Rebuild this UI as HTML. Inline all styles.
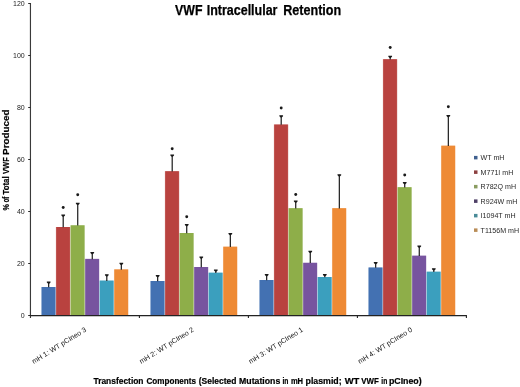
<!DOCTYPE html><html><head><meta charset="utf-8"><title>VWF Intracellular Retention</title>
<style>html,body{margin:0;padding:0;background:#fff}body{width:520px;height:387px;overflow:hidden}svg{display:block}text{font-family:"Liberation Sans",sans-serif}</style></head><body>
<svg width="520" height="387" viewBox="0 0 520 387">
<rect width="520" height="387" fill="#fff"/>
<text y="14.6" font-size="14" font-weight="bold" fill="#000" stroke="#000" stroke-width="0.25"><tspan x="175.1" textLength="27.4" lengthAdjust="spacingAndGlyphs">VWF</tspan> <tspan x="206.7" textLength="70.8" lengthAdjust="spacingAndGlyphs">Intracellular</tspan> <tspan x="283.2" textLength="58" lengthAdjust="spacingAndGlyphs">Retention</tspan></text>
<rect x="41.30" y="287.00" width="14.53" height="28.50" fill="#4371b2" opacity="0.4"/>
<rect x="41.65" y="287.00" width="13.73" height="28.50" fill="#4371b2"/>
<line x1="48.67" y1="287.30" x2="48.67" y2="282.00" stroke="#1a1a1a" stroke-width="1.2"/>
<polygon points="46.82,281.60 50.52,281.60 50.52,282.50 49.17,283.80 48.17,283.80 46.82,282.50" fill="#1a1a1a"/>
<rect x="55.83" y="227.00" width="14.53" height="88.50" fill="#b9423f" opacity="0.4"/>
<rect x="56.18" y="227.00" width="13.73" height="88.50" fill="#b9423f"/>
<line x1="63.20" y1="227.30" x2="63.20" y2="215.00" stroke="#1a1a1a" stroke-width="1.2"/>
<polygon points="61.35,214.60 65.05,214.60 65.05,215.50 63.70,216.80 62.70,216.80 61.35,215.50" fill="#1a1a1a"/>
<circle cx="63.20" cy="207.50" r="1.45" fill="#1a1a1a"/>
<rect x="70.37" y="225.30" width="14.53" height="90.20" fill="#8eae49" opacity="0.4"/>
<rect x="70.72" y="225.30" width="13.73" height="90.20" fill="#8eae49"/>
<line x1="77.73" y1="225.60" x2="77.73" y2="203.20" stroke="#1a1a1a" stroke-width="1.2"/>
<polygon points="75.88,202.80 79.58,202.80 79.58,203.70 78.23,205.00 77.23,205.00 75.88,203.70" fill="#1a1a1a"/>
<circle cx="77.73" cy="194.70" r="1.45" fill="#1a1a1a"/>
<rect x="84.90" y="258.90" width="14.53" height="56.60" fill="#77549f" opacity="0.4"/>
<rect x="85.25" y="258.90" width="13.73" height="56.60" fill="#77549f"/>
<line x1="92.27" y1="259.20" x2="92.27" y2="252.50" stroke="#1a1a1a" stroke-width="1.2"/>
<polygon points="90.42,252.10 94.12,252.10 94.12,253.00 92.77,254.30 91.77,254.30 90.42,253.00" fill="#1a1a1a"/>
<rect x="99.43" y="280.60" width="14.53" height="34.90" fill="#3b9fbe" opacity="0.4"/>
<rect x="99.78" y="280.60" width="13.73" height="34.90" fill="#3b9fbe"/>
<line x1="106.80" y1="280.90" x2="106.80" y2="274.70" stroke="#1a1a1a" stroke-width="1.2"/>
<polygon points="104.95,274.30 108.65,274.30 108.65,275.20 107.30,276.50 106.30,276.50 104.95,275.20" fill="#1a1a1a"/>
<rect x="113.97" y="269.40" width="14.53" height="46.10" fill="#ee8a35" opacity="0.4"/>
<rect x="114.32" y="269.40" width="13.73" height="46.10" fill="#ee8a35"/>
<line x1="121.33" y1="269.70" x2="121.33" y2="263.20" stroke="#1a1a1a" stroke-width="1.2"/>
<polygon points="119.48,262.80 123.18,262.80 123.18,263.70 121.83,265.00 120.83,265.00 119.48,263.70" fill="#1a1a1a"/>
<rect x="150.30" y="281.00" width="14.53" height="34.50" fill="#4371b2" opacity="0.4"/>
<rect x="150.65" y="281.00" width="13.73" height="34.50" fill="#4371b2"/>
<line x1="157.67" y1="281.30" x2="157.67" y2="275.50" stroke="#1a1a1a" stroke-width="1.2"/>
<polygon points="155.82,275.10 159.52,275.10 159.52,276.00 158.17,277.30 157.17,277.30 155.82,276.00" fill="#1a1a1a"/>
<rect x="164.83" y="171.20" width="14.53" height="144.30" fill="#b9423f" opacity="0.4"/>
<rect x="165.18" y="171.20" width="13.73" height="144.30" fill="#b9423f"/>
<line x1="172.20" y1="171.50" x2="172.20" y2="155.00" stroke="#1a1a1a" stroke-width="1.2"/>
<polygon points="170.35,154.60 174.05,154.60 174.05,155.50 172.70,156.80 171.70,156.80 170.35,155.50" fill="#1a1a1a"/>
<circle cx="172.20" cy="148.70" r="1.45" fill="#1a1a1a"/>
<rect x="179.37" y="233.00" width="14.53" height="82.50" fill="#8eae49" opacity="0.4"/>
<rect x="179.72" y="233.00" width="13.73" height="82.50" fill="#8eae49"/>
<line x1="186.73" y1="233.30" x2="186.73" y2="224.50" stroke="#1a1a1a" stroke-width="1.2"/>
<polygon points="184.88,224.10 188.58,224.10 188.58,225.00 187.23,226.30 186.23,226.30 184.88,225.00" fill="#1a1a1a"/>
<circle cx="186.73" cy="216.70" r="1.45" fill="#1a1a1a"/>
<rect x="193.90" y="267.00" width="14.53" height="48.50" fill="#77549f" opacity="0.4"/>
<rect x="194.25" y="267.00" width="13.73" height="48.50" fill="#77549f"/>
<line x1="201.27" y1="267.30" x2="201.27" y2="257.00" stroke="#1a1a1a" stroke-width="1.2"/>
<polygon points="199.42,256.60 203.12,256.60 203.12,257.50 201.77,258.80 200.77,258.80 199.42,257.50" fill="#1a1a1a"/>
<rect x="208.43" y="272.70" width="14.53" height="42.80" fill="#3b9fbe" opacity="0.4"/>
<rect x="208.78" y="272.70" width="13.73" height="42.80" fill="#3b9fbe"/>
<line x1="215.80" y1="273.00" x2="215.80" y2="270.00" stroke="#1a1a1a" stroke-width="1.2"/>
<polygon points="213.95,269.60 217.65,269.60 217.65,270.50 216.30,271.80 215.30,271.80 213.95,270.50" fill="#1a1a1a"/>
<rect x="222.97" y="246.70" width="14.53" height="68.80" fill="#ee8a35" opacity="0.4"/>
<rect x="223.32" y="246.70" width="13.73" height="68.80" fill="#ee8a35"/>
<line x1="230.33" y1="247.00" x2="230.33" y2="233.50" stroke="#1a1a1a" stroke-width="1.2"/>
<polygon points="228.48,233.10 232.18,233.10 232.18,234.00 230.83,235.30 229.83,235.30 228.48,234.00" fill="#1a1a1a"/>
<rect x="259.30" y="280.00" width="14.53" height="35.50" fill="#4371b2" opacity="0.4"/>
<rect x="259.65" y="280.00" width="13.73" height="35.50" fill="#4371b2"/>
<line x1="266.67" y1="280.30" x2="266.67" y2="274.50" stroke="#1a1a1a" stroke-width="1.2"/>
<polygon points="264.82,274.10 268.52,274.10 268.52,275.00 267.17,276.30 266.17,276.30 264.82,275.00" fill="#1a1a1a"/>
<rect x="273.83" y="124.50" width="14.53" height="191.00" fill="#b9423f" opacity="0.4"/>
<rect x="274.18" y="124.50" width="13.73" height="191.00" fill="#b9423f"/>
<line x1="281.20" y1="124.80" x2="281.20" y2="115.70" stroke="#1a1a1a" stroke-width="1.2"/>
<polygon points="279.35,115.30 283.05,115.30 283.05,116.20 281.70,117.50 280.70,117.50 279.35,116.20" fill="#1a1a1a"/>
<circle cx="281.20" cy="108.00" r="1.45" fill="#1a1a1a"/>
<rect x="288.37" y="208.20" width="14.53" height="107.30" fill="#8eae49" opacity="0.4"/>
<rect x="288.72" y="208.20" width="13.73" height="107.30" fill="#8eae49"/>
<line x1="295.73" y1="208.50" x2="295.73" y2="201.00" stroke="#1a1a1a" stroke-width="1.2"/>
<polygon points="293.88,200.60 297.58,200.60 297.58,201.50 296.23,202.80 295.23,202.80 293.88,201.50" fill="#1a1a1a"/>
<circle cx="295.73" cy="194.50" r="1.45" fill="#1a1a1a"/>
<rect x="302.90" y="262.80" width="14.53" height="52.70" fill="#77549f" opacity="0.4"/>
<rect x="303.25" y="262.80" width="13.73" height="52.70" fill="#77549f"/>
<line x1="310.27" y1="263.10" x2="310.27" y2="251.20" stroke="#1a1a1a" stroke-width="1.2"/>
<polygon points="308.42,250.80 312.12,250.80 312.12,251.70 310.77,253.00 309.77,253.00 308.42,251.70" fill="#1a1a1a"/>
<rect x="317.43" y="277.00" width="14.53" height="38.50" fill="#3b9fbe" opacity="0.4"/>
<rect x="317.78" y="277.00" width="13.73" height="38.50" fill="#3b9fbe"/>
<line x1="324.80" y1="277.30" x2="324.80" y2="274.50" stroke="#1a1a1a" stroke-width="1.2"/>
<polygon points="322.95,274.10 326.65,274.10 326.65,275.00 325.30,276.30 324.30,276.30 322.95,275.00" fill="#1a1a1a"/>
<rect x="331.97" y="208.20" width="14.53" height="107.30" fill="#ee8a35" opacity="0.4"/>
<rect x="332.32" y="208.20" width="13.73" height="107.30" fill="#ee8a35"/>
<line x1="339.33" y1="208.50" x2="339.33" y2="174.70" stroke="#1a1a1a" stroke-width="1.2"/>
<polygon points="337.48,174.30 341.18,174.30 341.18,175.20 339.83,176.50 338.83,176.50 337.48,175.20" fill="#1a1a1a"/>
<rect x="368.30" y="267.50" width="14.53" height="48.00" fill="#4371b2" opacity="0.4"/>
<rect x="368.65" y="267.50" width="13.73" height="48.00" fill="#4371b2"/>
<line x1="375.67" y1="267.80" x2="375.67" y2="262.50" stroke="#1a1a1a" stroke-width="1.2"/>
<polygon points="373.82,262.10 377.52,262.10 377.52,263.00 376.17,264.30 375.17,264.30 373.82,263.00" fill="#1a1a1a"/>
<rect x="382.83" y="59.20" width="14.53" height="256.30" fill="#b9423f" opacity="0.4"/>
<rect x="383.18" y="59.20" width="13.73" height="256.30" fill="#b9423f"/>
<line x1="390.20" y1="59.50" x2="390.20" y2="56.20" stroke="#1a1a1a" stroke-width="1.2"/>
<polygon points="388.35,55.80 392.05,55.80 392.05,56.70 390.70,58.00 389.70,58.00 388.35,56.70" fill="#1a1a1a"/>
<circle cx="390.20" cy="47.50" r="1.45" fill="#1a1a1a"/>
<rect x="397.37" y="187.20" width="14.53" height="128.30" fill="#8eae49" opacity="0.4"/>
<rect x="397.72" y="187.20" width="13.73" height="128.30" fill="#8eae49"/>
<line x1="404.73" y1="187.50" x2="404.73" y2="182.50" stroke="#1a1a1a" stroke-width="1.2"/>
<polygon points="402.88,182.10 406.58,182.10 406.58,183.00 405.23,184.30 404.23,184.30 402.88,183.00" fill="#1a1a1a"/>
<circle cx="404.73" cy="175.00" r="1.45" fill="#1a1a1a"/>
<rect x="411.90" y="255.70" width="14.53" height="59.80" fill="#77549f" opacity="0.4"/>
<rect x="412.25" y="255.70" width="13.73" height="59.80" fill="#77549f"/>
<line x1="419.27" y1="256.00" x2="419.27" y2="246.00" stroke="#1a1a1a" stroke-width="1.2"/>
<polygon points="417.42,245.60 421.12,245.60 421.12,246.50 419.77,247.80 418.77,247.80 417.42,246.50" fill="#1a1a1a"/>
<rect x="426.43" y="271.70" width="14.53" height="43.80" fill="#3b9fbe" opacity="0.4"/>
<rect x="426.78" y="271.70" width="13.73" height="43.80" fill="#3b9fbe"/>
<line x1="433.80" y1="272.00" x2="433.80" y2="268.70" stroke="#1a1a1a" stroke-width="1.2"/>
<polygon points="431.95,268.30 435.65,268.30 435.65,269.20 434.30,270.50 433.30,270.50 431.95,269.20" fill="#1a1a1a"/>
<rect x="440.97" y="145.70" width="14.53" height="169.80" fill="#ee8a35" opacity="0.4"/>
<rect x="441.32" y="145.70" width="13.73" height="169.80" fill="#ee8a35"/>
<line x1="448.33" y1="146.00" x2="448.33" y2="115.50" stroke="#1a1a1a" stroke-width="1.2"/>
<polygon points="446.48,115.10 450.18,115.10 450.18,116.00 448.83,117.30 447.83,117.30 446.48,116.00" fill="#1a1a1a"/>
<circle cx="448.33" cy="106.70" r="1.45" fill="#1a1a1a"/>
<line x1="30.45" y1="3" x2="30.45" y2="318.1" stroke="#3a3a3a" stroke-width="1.15"/>
<line x1="29.9" y1="315.5" x2="466.9" y2="315.5" stroke="#222" stroke-width="1.25"/>
<line x1="28.2" y1="315.5" x2="30.4" y2="315.5" stroke="#2a2a2a" stroke-width="1"/>
<text x="24.7" y="317.7" text-anchor="end" font-size="7" fill="#222">0</text>
<line x1="28.2" y1="263.5" x2="30.4" y2="263.5" stroke="#2a2a2a" stroke-width="1"/>
<text x="24.7" y="265.7" text-anchor="end" font-size="7" fill="#222">20</text>
<line x1="28.2" y1="211.5" x2="30.4" y2="211.5" stroke="#2a2a2a" stroke-width="1"/>
<text x="24.7" y="213.7" text-anchor="end" font-size="7" fill="#222">40</text>
<line x1="28.2" y1="159.5" x2="30.4" y2="159.5" stroke="#2a2a2a" stroke-width="1"/>
<text x="24.7" y="161.7" text-anchor="end" font-size="7" fill="#222">60</text>
<line x1="28.2" y1="107.5" x2="30.4" y2="107.5" stroke="#2a2a2a" stroke-width="1"/>
<text x="24.7" y="109.7" text-anchor="end" font-size="7" fill="#222">80</text>
<line x1="28.2" y1="55.5" x2="30.4" y2="55.5" stroke="#2a2a2a" stroke-width="1"/>
<text x="24.7" y="57.7" text-anchor="end" font-size="7" fill="#222">100</text>
<line x1="28.2" y1="3.5" x2="30.4" y2="3.5" stroke="#2a2a2a" stroke-width="1"/>
<text x="24.7" y="5.7" text-anchor="end" font-size="7" fill="#222">120</text>
<line x1="139.40" y1="315.5" x2="139.40" y2="318.0" stroke="#222" stroke-width="1.1"/>
<line x1="248.40" y1="315.5" x2="248.40" y2="318.0" stroke="#222" stroke-width="1.1"/>
<line x1="357.40" y1="315.5" x2="357.40" y2="318.0" stroke="#222" stroke-width="1.1"/>
<line x1="466.40" y1="315.5" x2="466.40" y2="318.0" stroke="#222" stroke-width="1.1"/>
<text transform="translate(86.90,330.90) rotate(-32)" text-anchor="end" font-size="7.1" fill="#111">mH 1: WT pCIneo 3</text>
<text transform="translate(194.40,330.90) rotate(-32)" text-anchor="end" font-size="7.1" fill="#111">mH 2: WT pCIneo 2</text>
<text transform="translate(303.60,330.90) rotate(-32)" text-anchor="end" font-size="7.1" fill="#111">mH 3: WT pCIneo 1</text>
<text transform="translate(412.80,330.90) rotate(-32)" text-anchor="end" font-size="7.1" fill="#111">mH 4: WT pCIneo 0</text>
<rect x="474" y="155.90" width="3.5" height="3.5" fill="#40608f"/>
<text x="480.6" y="160.00" font-size="7.1" fill="#2a2a2a">WT mH</text>
<rect x="474" y="170.40" width="3.5" height="3.5" fill="#8c4040"/>
<text x="480.6" y="174.50" font-size="7.1" fill="#2a2a2a">M771I mH</text>
<rect x="474" y="184.90" width="3.5" height="3.5" fill="#8a9c60"/>
<text x="480.6" y="189.00" font-size="7.1" fill="#2a2a2a">R782Q mH</text>
<rect x="474" y="199.40" width="3.5" height="3.5" fill="#4e3f66"/>
<text x="480.6" y="203.50" font-size="7.1" fill="#2a2a2a">R924W mH</text>
<rect x="474" y="213.90" width="3.5" height="3.5" fill="#4a8b98"/>
<text x="480.6" y="218.00" font-size="7.1" fill="#2a2a2a">I1094T mH</text>
<rect x="474" y="228.40" width="3.5" height="3.5" fill="#b98c56"/>
<text x="480.6" y="232.50" font-size="7.1" fill="#2a2a2a">T1156M mH</text>
<text y="383.9" font-size="8.8" font-weight="bold" fill="#000" stroke="#000" stroke-width="0.2"><tspan x="93.5" textLength="50" lengthAdjust="spacingAndGlyphs">Transfection</tspan> <tspan x="146.5" textLength="49.5" lengthAdjust="spacingAndGlyphs">Components</tspan> <tspan x="198.8" textLength="37.7" lengthAdjust="spacingAndGlyphs">(Selected</tspan> <tspan x="239.1" textLength="41.2" lengthAdjust="spacingAndGlyphs">Mutations</tspan> <tspan x="282.4" textLength="6" lengthAdjust="spacingAndGlyphs">in</tspan> <tspan x="290.9" textLength="12.2" lengthAdjust="spacingAndGlyphs">mH</tspan> <tspan x="305.6" textLength="36" lengthAdjust="spacingAndGlyphs">plasmid;</tspan> <tspan x="344.7" textLength="14.7" lengthAdjust="spacingAndGlyphs">WT</tspan> <tspan x="361.2" textLength="17.5" lengthAdjust="spacingAndGlyphs">VWF</tspan> <tspan x="381.3" textLength="6" lengthAdjust="spacingAndGlyphs">in</tspan> <tspan x="388.9" textLength="32.8" lengthAdjust="spacingAndGlyphs">pCIneo)</tspan></text>
<text y="0" font-size="8.6" font-weight="bold" fill="#000" transform="translate(8.7,210.4) rotate(-90)" stroke="#000" stroke-width="0.2"><tspan x="-0.1" textLength="6.5" lengthAdjust="spacingAndGlyphs">%</tspan> <tspan x="7.9" textLength="5.9" lengthAdjust="spacingAndGlyphs">of</tspan> <tspan x="15.8" textLength="18.3" lengthAdjust="spacingAndGlyphs">Total</tspan> <tspan x="36.5" textLength="16.7" lengthAdjust="spacingAndGlyphs">VWF</tspan> <tspan x="55.5" textLength="45.3" lengthAdjust="spacingAndGlyphs">Produced</tspan></text>
</svg></body></html>
